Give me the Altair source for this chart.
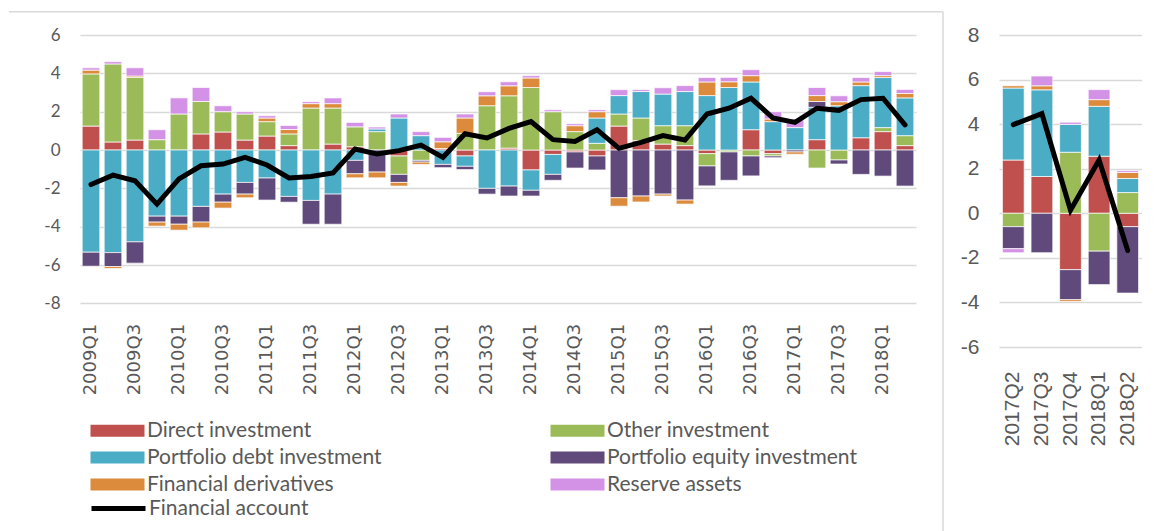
import altair as alt
import pandas as pd

# ---------------- categories ----------------
quarters_left = [
    "2009Q1", "2009Q2", "2009Q3", "2009Q4", "2010Q1", "2010Q2", "2010Q3", "2010Q4",
    "2011Q1", "2011Q2", "2011Q3", "2011Q4", "2012Q1", "2012Q2", "2012Q3", "2012Q4",
    "2013Q1", "2013Q2", "2013Q3", "2013Q4", "2014Q1", "2014Q2", "2014Q3", "2014Q4",
    "2015Q1", "2015Q2", "2015Q3", "2015Q4", "2016Q1", "2016Q2", "2016Q3", "2016Q4",
    "2017Q1", "2017Q2", "2017Q3", "2017Q4", "2018Q1", "2018Q2",
]
ticks_left = [
    "2009Q1", "2009Q3", "2010Q1", "2010Q3", "2011Q1", "2011Q3", "2012Q1", "2012Q3",
    "2013Q1", "2013Q3", "2014Q1", "2014Q3", "2015Q1", "2015Q3", "2016Q1", "2016Q3",
    "2017Q1", "2017Q3", "2018Q1",
]
quarters_right = ["2017Q2", "2017Q3", "2017Q4", "2018Q1", "2018Q2"]

# stacking order (closest to zero first)
components = [
    "Direct investment", "Other investment", "Portfolio debt investment",
    "Portfolio equity investment", "Financial derivatives", "Reserve assets",
]
component_colors = {
    "Direct investment": "#C0504D",
    "Other investment": "#9BBB59",
    "Portfolio debt investment": "#4BACC6",
    "Portfolio equity investment": "#604A7B",
    "Financial derivatives": "#DB8B3B",
    "Reserve assets": "#D492E6",
}
# legend is filled column by column
legend_order = [
    "Direct investment", "Portfolio debt investment", "Financial derivatives",
    "Other investment", "Portfolio equity investment", "Reserve assets",
]
line_name = "Financial account"

# ---------------- left panel values (% of GDP) ----------------
di_left = [1.25, 0.42, 0.52, 0.0, 0.0, 0.84, 0.94, 0.52, 0.73, 0.23, 0.0, 0.31, 0.17, 0.0,
           -0.31, 0.0, 0.08, -0.31, 0.0, 0.10, -1.04, -0.23, -0.10, -0.31, 1.25, 0.49, 0.31,
           0.23, -0.19, 0.0, 1.06, -0.19, 0.0, 0.54, 0.0, 0.64, 0.96, 0.23]
oi_left = [2.72, 4.07, 3.27, 0.54, 1.88, 1.69, 1.06, 1.36, 0.75, 0.61, 2.19, 1.88, 1.04, 0.96,
           -0.96, -0.54, 0.0, 0.87, 2.31, 2.73, 3.26, 2.00, 0.96, 0.35, 0.63, 1.18, 0.96,
           1.04, -0.64, -0.10, -0.31, -0.12, 0.0, -0.94, -0.52, 0.0, 0.21, 0.52]
pdi_left = [-5.33, -5.35, -4.79, -3.45, -3.45, -2.94, -2.30, -1.69, -1.46, -2.42, -2.63, -2.30,
            -0.54, 0.14, 1.67, 0.75, -0.75, -0.54, -2.00, -1.88, -1.06, -1.04, 0.0, 1.32, 0.96,
            1.38, 1.65, 1.78, 2.84, 3.26, 2.49, 1.48, 1.17, 1.69, 2.31, 2.72, 2.61, 1.97]
pei_left = [-0.73, -0.73, -1.11, -0.31, -0.42, -0.82, -0.42, -0.61, -1.15, -0.30, -1.24, -1.57,
            -0.70, -1.15, -0.42, -0.09, -0.17, -0.17, -0.30, -0.52, -0.30, -0.31, -0.84, -0.73,
            -2.49, -2.40, -2.30, -2.61, -1.04, -1.48, -1.04, -0.09, -0.10, 0.30, -0.21, -1.27,
            -1.36, -1.88]
fd_left = [0.20, -0.10, 0.07, -0.21, -0.31, -0.30, -0.31, -0.19, 0.19, 0.23, 0.23, 0.23, -0.21,
           -0.30, -0.19, -0.12, 0.35, 0.80, 0.52, 0.52, 0.50, 0.0, 0.31, 0.33, -0.44, -0.31,
           -0.10, -0.21, 0.71, 0.30, 0.33, 0.14, -0.12, 0.31, 0.21, 0.19, 0.10, 0.23]
ra_left = [0.12, 0.12, 0.43, 0.52, 0.84, 0.73, 0.31, 0.12, 0.12, 0.21, 0.10, 0.30, 0.23, 0.10,
           0.21, 0.21, 0.23, 0.21, 0.21, 0.21, 0.12, 0.10, 0.10, 0.10, 0.31, 0.10, 0.33, 0.31,
           0.23, 0.23, 0.31, 0.38, 0.45, 0.42, 0.31, 0.23, 0.21, 0.21]
fa_left = [-1.80, -1.31, -1.60, -2.82, -1.51, -0.82, -0.73, -0.38, -0.78, -1.46, -1.38, -1.20,
           0.05, -0.21, -0.03, 0.26, -0.38, 0.85, 0.63, 1.13, 1.48, 0.54, 0.45, 1.06, 0.09, 0.40,
           0.75, 0.52, 1.88, 2.18, 2.70, 1.67, 1.44, 2.18, 2.07, 2.63, 2.70, 1.31]

# ---------------- right panel values ----------------
di_right = [2.39, 1.65, -2.53, 2.56, -0.60]
oi_right = [-0.60, 0.0, 2.74, -1.70, 0.93]
pdi_right = [3.23, 3.89, 1.25, 2.24, 0.63]
pei_right = [-0.99, -1.77, -1.35, -1.50, -2.98]
fd_right = [0.10, 0.18, -0.08, 0.30, 0.27]
ra_right = [-0.18, 0.44, 0.10, 0.45, 0.08]
fa_right = [3.98, 4.47, 0.14, 2.39, -1.67]


def long_table(quarters, series):
    rows = []
    for ci, (name, vals) in enumerate(zip(components, series)):
        for q, v in zip(quarters, vals):
            rows.append({"quarter": q, "component": name, "value": v, "order": ci})
    return pd.DataFrame(rows)


bars_left_df = long_table(quarters_left, [di_left, oi_left, pdi_left, pei_left, fd_left, ra_left])
bars_right_df = long_table(quarters_right, [di_right, oi_right, pdi_right, pei_right, fd_right, ra_right])
line_left_df = pd.DataFrame({"quarter": quarters_left, "series": line_name, "value": fa_left})
line_right_df = pd.DataFrame({"quarter": quarters_right, "series": line_name, "value": fa_right})

GRID = "#D9D9D9"
TEXT = "#595959"


def panel(bars_df, line_df, quarters, ticks, domain, yvals, xfont, xsize, xpad, yfont, ysize,
          pad_in, pad_out, show_legend):
    xscale = alt.Scale(paddingInner=pad_in, paddingOuter=pad_out)
    xaxis = alt.Axis(values=ticks, labelAngle=-90, title=None, domain=False, ticks=False,
                     grid=False, labelPadding=xpad, labelFont=xfont, labelFontSize=xsize,
                     labelColor=TEXT, labelOverlap=False)
    yscale = alt.Scale(domain=domain, nice=False, zero=False)
    yaxis = alt.Axis(values=yvals, title=None, domain=False, ticks=False, grid=True,
                     gridColor=GRID, gridWidth=1.6, labelPadding=20, labelFont=yfont,
                     labelFontSize=ysize, labelColor=TEXT, labelOverlap=False,
                     labelExpr="'' + datum.value")

    if show_legend:
        fill_legend = alt.Legend(
            orient="none", legendX=27, legendY=385, columns=2, title=None,
            symbolType="M-3,-0.667H3V0.667H-3Z", symbolSize=324, symbolStrokeWidth=0,
            labelFont="Lato", labelFontSize=21, labelColor=TEXT, labelOffset=19,
            rowPadding=5, columnPadding=168, padding=0, labelLimit=400,
        )
        stroke_legend = alt.Legend(
            orient="none", legendX=27, legendY=462, title=None, symbolType="M-3,0H3",
            symbolSize=324, symbolStrokeWidth=5, labelFont="Lato", labelFontSize=21,
            labelColor=TEXT, labelOffset=19, padding=0, labelLimit=400,
        )
    else:
        fill_legend = None
        stroke_legend = None

    bars = alt.Chart(bars_df).transform_filter("datum.value != 0").mark_bar(
        stroke="white", strokeWidth=0.7
    ).encode(
        x=alt.X("quarter:N", sort=quarters, scale=xscale, axis=xaxis),
        y=alt.Y("value:Q", stack="zero", scale=yscale, axis=yaxis),
        fill=alt.Fill("component:N",
                      scale=alt.Scale(domain=legend_order,
                                      range=[component_colors[c] for c in legend_order]),
                      legend=fill_legend),
        order=alt.Order("order:Q", sort="ascending"),
    )
    line = alt.Chart(line_df).mark_line(strokeWidth=5, strokeCap="round").encode(
        x=alt.X("quarter:N", sort=quarters, scale=xscale, axis=xaxis),
        y=alt.Y("value:Q", scale=yscale, axis=yaxis),
        stroke=alt.Stroke("series:N", scale=alt.Scale(domain=[line_name], range=["black"]),
                          legend=stroke_legend),
    )
    return bars, line


bars_l, line_l = panel(bars_left_df, line_left_df, quarters_left, ticks_left, [-8, 6],
                       [-8, -6, -4, -2, 0, 2, 4, 6], "DejaVu Sans", 18, 20, "Lato", 17,
                       0.2, 0.1, True)
bars_r, line_r = panel(bars_right_df, line_right_df, quarters_right, quarters_right, [-6, 8],
                       [-6, -4, -2, 0, 2, 4, 6, 8], "Liberation Sans", 21, 24,
                       "Liberation Sans", 21, 0.24, 0.12, False)

# light gray chart-area frame (decoration)
frame_df = pd.DataFrame({"k": [0]})
frame_top = alt.Chart(frame_df).mark_rule(color=GRID, strokeWidth=1.5).encode(
    x=alt.value(-71), x2=alt.value(863), y=alt.value(-23.3))
frame_side = alt.Chart(frame_df).mark_rule(color=GRID, strokeWidth=1.5).encode(
    x=alt.value(863), y=alt.value(-23.3), y2=alt.value(498))

left = alt.layer(frame_top, frame_side, bars_l, line_l).properties(width=836, height=268.4)
right = alt.layer(bars_r, line_r).properties(width=143, height=312)

chart = alt.hconcat(left, right, spacing=83, bounds="flush").resolve_scale(
    x="independent", y="independent", fill="independent", stroke="independent"
).properties(
    padding={"left": 0, "top": 2, "right": 0, "bottom": 0}
).configure_view(stroke=None)

chart.save("out.html", embed_options={"renderer": "svg", "actions": False})
